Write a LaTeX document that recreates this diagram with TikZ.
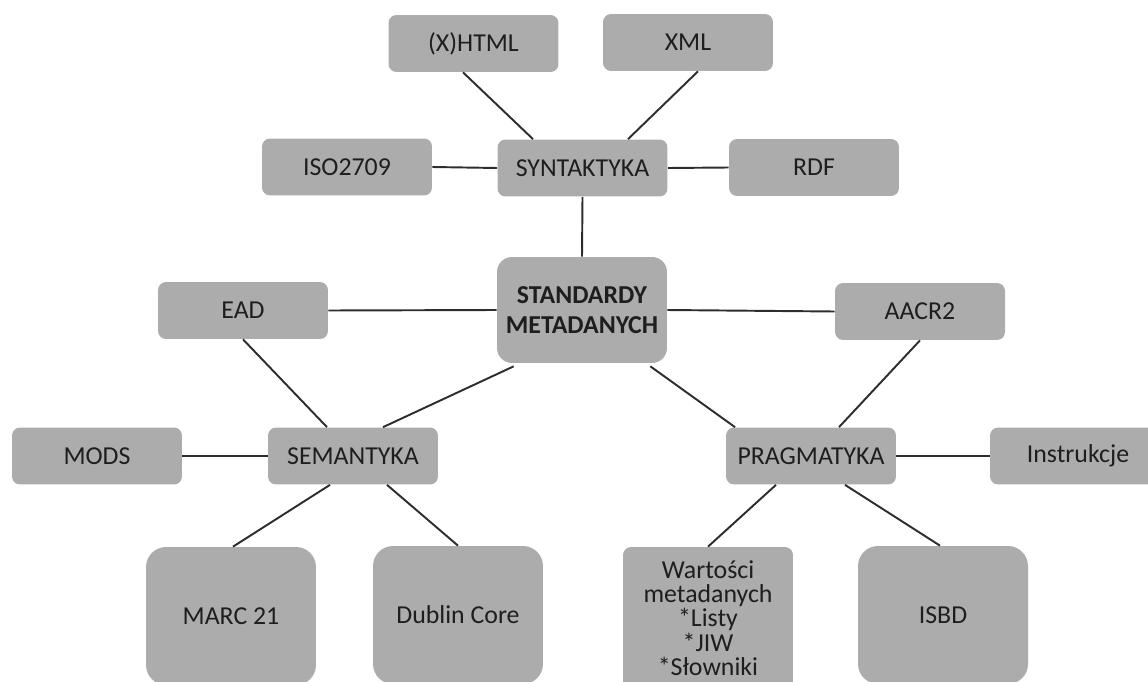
\documentclass[tikz,border=0pt]{standalone}
\usepackage{fontspec}
\setmainfont{Carlito}
\usetikzlibrary{calc}
\definecolor{boxgray}{RGB}{172,172,172}
\definecolor{txt}{RGB}{30,30,30}
\definecolor{ln}{RGB}{45,45,45}
\begin{document}
\begin{tikzpicture}[x=0.02cm,y=-0.02cm,
  box/.style={draw=none,fill=boxgray,rounded corners=0.16cm,text=txt,
    inner sep=0pt,align=center,minimum width=3.4cm,minimum height=1.14cm,
    font=\fontsize{14.7}{13.8}\selectfont},
  bigbox/.style={box,rounded corners=0.4cm,minimum height=2.76cm},
  conn/.style={draw=ln,line width=1.1pt}]
\useasboundingbox (0,0) rectangle (1148,682);
\node[box] (xhtml) at (473.5,43.5) {(X)HTML};
\node[box] (xml) at (688,42.5) {XML};
\node[box] (syn) at (582.5,168) {SYNTAKTYKA};
\node[box] (iso) at (347,167) {ISO2709};
\node[box] (rdf) at (814,167.5) {RDF};
\node[box,rounded corners=0.3cm,minimum height=2.12cm,font=\fontsize{14.7}{17}\selectfont\bfseries] (std) at (582,310) {STANDARDY\\METADANYCH};
\node[box] (ead) at (243,310.5) {EAD};
\node[box] (aacr) at (920,311.5) {AACR2};
\node[box] (mods) at (97,456) {MODS};
\node[box] (sem) at (353,456) {SEMANTYKA};
\node[box] (prag) at (811,456) {PRAGMATYKA};
\node[box,minimum width=3.52cm] (instr) at (1078,456) {Instrukcje};
\node[bigbox] (marc) at (231,616) {MARC 21};
\node[bigbox] (dublin) at (458,615) {Dublin Core};
\node[box,minimum height=2.84cm] (wart) at (708,618) {Wartości\\metadanych\\*Listy\\*JIW\\*Słowniki};
\node[bigbox] (isbd) at (943,615) {ISBD};
\draw[conn] ([xshift=-0.21cm]xhtml.south) -- ([xshift=-0.99cm]syn.north);
\draw[conn] ([xshift=0.2cm]xml.south) -- ([xshift=0.91cm]syn.north);
\draw[conn] (iso.east) -- (syn.west);
\draw[conn] (syn.east) -- (rdf.west);
\draw[conn] (syn.south) -- (std.north);
\draw[conn] (ead.east) -- (std.west);
\draw[conn] (std.east) -- (aacr.west);
\draw[conn] (ead.south) -- ([xshift=-0.52cm]sem.north);
\draw[conn] ([xshift=0.34cm,yshift=-0.06cm]std.south west) -- ([xshift=0.6cm]sem.north);
\draw[conn] ([xshift=-0.34cm,yshift=-0.06cm]std.south east) -- ([xshift=-1.52cm]prag.north);
\draw[conn] (aacr.south) -- ([xshift=0.56cm]prag.north);
\draw[conn] (mods.east) -- (sem.west);
\draw[conn] (prag.east) -- (instr.west);
\draw[conn] ([xshift=-0.46cm]sem.south) -- ([xshift=0.04cm]marc.north);
\draw[conn] ([xshift=0.68cm]sem.south) -- (dublin.north);
\draw[conn] ([xshift=-0.7cm]prag.south) -- (wart.north);
\draw[conn] ([xshift=0.68cm]prag.south) -- ([xshift=-0.06cm]isbd.north);
\end{tikzpicture}
\end{document}
